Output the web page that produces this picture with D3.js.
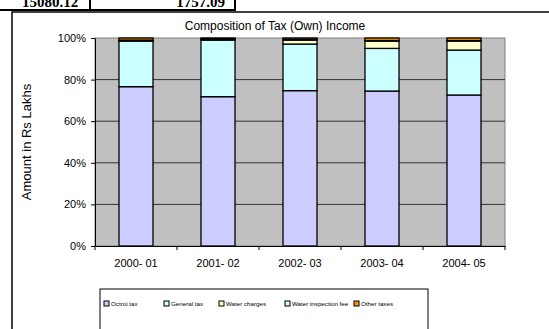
<!DOCTYPE html>
<html>
<head>
<meta charset="utf-8">
<script src="https://cdn.jsdelivr.net/npm/d3@7"></script>
<style>
  body { margin: 0; background: #fff; }
  svg { display: block; }
</style>
</head>
<body>
<script>
// data
const years = ["2000- 01", "2001- 02", "2002- 03", "2003- 04", "2004- 05"];
const series = ["Octroi tax", "General tax", "Water charges", "Water inspection fee", "Other taxes"];
const colors = ["#CCCCFF", "#CCFFFF", "#FFFFCC", "#CCFFFF", "#FF9900"];
const octroi = [76.6, 71.8, 74.7, 74.5, 72.6];
const general = [21.9, 27.2, 22.4, 20.5, 21.6];
const water = [0.3, 0.3, 1.9, 3.5, 4.3];
const inspection = [0.2, 0.2, 0.3, 0.3, 0.3];
const other = [1.0, 0.5, 0.7, 1.2, 1.2];
const yTicks = [0, 20, 40, 60, 80, 100];

const width = 549, height = 329;
const svg = d3.select("body").append("svg")
  .attr("width", width).attr("height", height)
  .attr("font-family", "Liberation Sans, Arial, sans-serif");

// table fragment on top (cut off by the page edge, as in the original)
svg.append("text").text("15080.12")
  .attr("x", 50).attr("y", 7).attr("text-anchor", "middle")
  .attr("font-family", "Liberation Serif").attr("font-size", 15).attr("font-weight", "bold");
svg.append("text").text("1757.09")
  .attr("x", 225).attr("y", 7).attr("text-anchor", "end")
  .attr("font-family", "Liberation Serif").attr("font-size", 15).attr("font-weight", "bold");
svg.append("line").attr("x1", 0).attr("x2", 236).attr("y1", 10).attr("y2", 10)
  .attr("stroke", "#000").attr("stroke-width", 2);
svg.append("line").attr("x1", 90).attr("x2", 90).attr("y1", 0).attr("y2", 10)
  .attr("stroke", "#000").attr("stroke-width", 2);
svg.append("line").attr("x1", 235).attr("x2", 235).attr("y1", 0).attr("y2", 10)
  .attr("stroke", "#000").attr("stroke-width", 2);

// chart frame
svg.append("path").attr("d", "M12,329V12H549")
  .attr("fill", "none").attr("stroke", "#000").attr("stroke-width", 1.5);

const margin = { left: 95, right: 44, top: 38, bottom: 83 };
const x = d3.scaleBand().domain(years).range([margin.left, width - margin.right]).paddingInner(0.585).paddingOuter(0.2925);
const y = d3.scaleLinear().domain([0, 100]).range([height - margin.bottom, margin.top]);

// plot area
svg.append("rect")
  .attr("x", margin.left).attr("y", margin.top)
  .attr("width", width - margin.left - margin.right)
  .attr("height", y(0) - y(100))
  .attr("fill", "#C0C0C0").attr("stroke", "#808080");

// gridlines
svg.append("g").selectAll("line").data(yTicks.slice(1, -1)).join("line")
  .attr("x1", margin.left).attr("x2", width - margin.right)
  .attr("y1", d => y(d)).attr("y2", d => y(d))
  .attr("stroke", "#333").attr("stroke-width", 1);

// stacked bars
const rows = years.map((yr, i) => ({
  year: yr, s0: octroi[i], s1: general[i], s2: water[i], s3: inspection[i], s4: other[i]
}));
const stack = d3.stack().keys(["s0", "s1", "s2", "s3", "s4"])(rows);
svg.append("g").selectAll("g").data(stack).join("g")
  .attr("fill", (d, i) => colors[i])
  .selectAll("rect").data(d => d).join("rect")
  .attr("x", d => x(d.data.year))
  .attr("width", x.bandwidth())
  .attr("y", d => y(d[1]))
  .attr("height", d => y(d[0]) - y(d[1]))
  .attr("stroke", "#000").attr("stroke-width", 1.3);

// axes
const yAxis = svg.append("g")
  .attr("transform", `translate(${margin.left},0)`)
  .call(d3.axisLeft(y).tickValues(yTicks).tickFormat(d => d + "%").tickSize(4).tickSizeOuter(0));
yAxis.select(".domain").attr("stroke", "#000");
yAxis.selectAll("text").attr("font-size", 11).attr("font-family", "Liberation Sans, Arial").attr("fill", "#000").attr("dx", -2);

const xAxis = svg.append("g")
  .attr("transform", `translate(0,${y(0)})`)
  .call(d3.axisBottom(x).tickSize(0).tickPadding(13));
xAxis.select(".domain").attr("stroke", "#000");
xAxis.selectAll("text").attr("font-size", 11).attr("font-family", "Liberation Sans, Arial").attr("fill", "#000");
const step = x.step();
xAxis.append("g").selectAll("line").data(d3.range(years.length + 1)).join("line")
  .attr("x1", i => margin.left + i * step).attr("x2", i => margin.left + i * step)
  .attr("y1", 0).attr("y2", 4).attr("stroke", "#000");

// title and y label
svg.append("text").text("Composition of Tax (Own) Income")
  .attr("x", 275).attr("y", 30).attr("text-anchor", "middle").attr("font-size", 12);
svg.append("text").text("Amount in Rs Lakhs")
  .attr("transform", `translate(31,${(y(0) + y(100)) / 2}) rotate(-90)`)
  .attr("text-anchor", "middle").attr("font-size", 13);

// legend
svg.append("rect").attr("x", 100).attr("y", 289).attr("width", 328).attr("height", 50)
  .attr("fill", "#fff").attr("stroke", "#000").attr("stroke-width", 1);
const legendX = [104, 164, 219, 285, 354];
const lg = svg.append("g").selectAll("g").data(series).join("g")
  .attr("transform", (d, i) => `translate(${legendX[i]},301)`);
lg.append("rect").attr("width", 5).attr("height", 5)
  .attr("fill", (d, i) => colors[i]).attr("stroke", "#000").attr("stroke-width", 1);
lg.append("text").text(d => d).attr("x", 7).attr("y", 5.3)
  .attr("font-size", 6.2).attr("font-family", "Liberation Sans Narrow, Liberation Sans, Arial");
</script>
</body>
</html>
